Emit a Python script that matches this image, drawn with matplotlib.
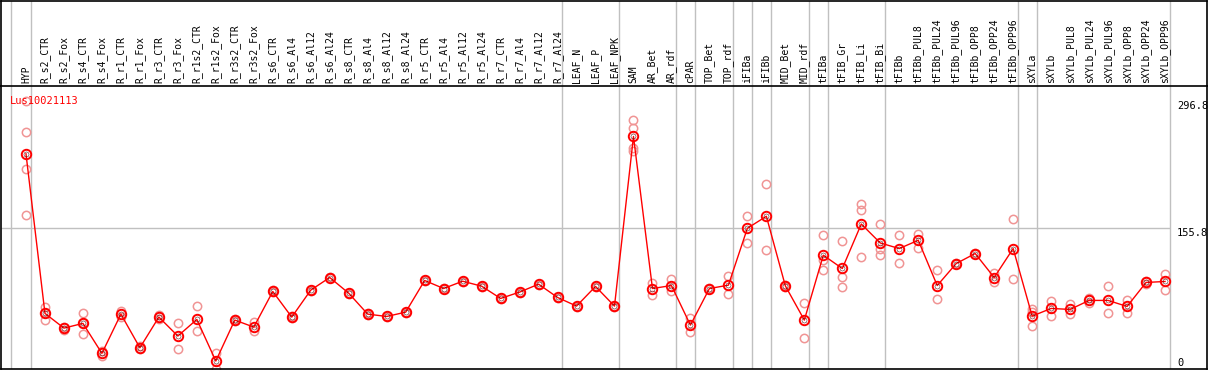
import numpy as np
import matplotlib
matplotlib.use('Agg')
import matplotlib.pyplot as plt

# condition names (header labels)
conditions = ['HYP', 'R_s2_CTR', 'R_s2_Fox', 'R_s4_CTR', 'R_s4_Fox', 'R_r1_CTR', 'R_r1_Fox',
              'R_r3_CTR', 'R_r3_Fox', 'R_r1s2_CTR', 'R_r1s2_Fox', 'R_r3s2_CTR', 'R_r3s2_Fox',
              'R_s6_CTR', 'R_s6_Al4', 'R_s6_Al12', 'R_s6_Al24', 'R_s8_CTR', 'R_s8_Al4',
              'R_s8_Al12', 'R_s8_Al24', 'R_r5_CTR', 'R_r5_Al4', 'R_r5_Al12', 'R_r5_Al24',
              'R_r7_CTR', 'R_r7_Al4', 'R_r7_Al12', 'R_r7_Al24', 'LEAF_N', 'LEAF_P', 'LEAF_NPK',
              'SAM', 'AR_Bet', 'AR_rdf', 'cPAR', 'TOP_Bet', 'TOP_rdf', 'iFIBa', 'iFIBb',
              'MID_Bet', 'MID_rdf', 'tFIBa', 'tFIB_Gr', 'tFIB_Li', 'tFIB_Bi', 'tFIBb',
              'tFIBb_PUL8', 'tFIBb_PUL24', 'tFIBb_PUL96', 'tFIBb_OPP8', 'tFIBb_OPP24',
              'tFIBb_OPP96', 'sXYLa', 'sXYLb', 'sXYLb_PUL8', 'sXYLb_PUL24', 'sXYLb_PUL96',
              'sXYLb_OPP8', 'sXYLb_OPP24', 'sXYLb_OPP96']

# mean expression per condition
means = [238.1, 61.1, 44.8, 50.0, 16.8, 60.3, 23.0, 57.0, 36.0, 54.4, 8.3, 53.7, 45.9,
         85.4, 57.0, 86.9, 100.9, 83.5, 60.3, 57.7, 62.5, 97.6, 88.7, 96.8, 91.3,
         77.7, 84.7, 93.5, 78.8, 69.2, 91.0, 69.2, 257.3, 88.7, 92.0, 48.1, 88.7, 92.4,
         155.5, 168.8, 91.6, 53.7, 125.6, 110.9, 160.2, 139.2, 133.0, 142.2, 92.0,
         116.4, 127.5, 100.9, 133.0, 58.1, 66.6, 65.5, 75.5, 75.5, 68.8, 95.4, 96.5]

# individual replicates per condition
replicates = [
    [296.8, 261.7, 221.5, 170.6], [68.1, 61.5, 53.3], [46.5, 43.0], [61.4, 50.5, 37.8],
    [19.7, 14.0], [64.0, 56.7], [24.5, 21.6], [59.3, 54.6], [50.0, 21.6], [68.8, 41.2],
    [17.0, 0.0], [55.0, 52.4], [51.1, 41.2], [86.5, 84.3], [58.0, 56.0], [87.5, 86.3],
    [101.5, 100.3], [84.2, 82.9], [61.0, 59.6], [58.3, 57.1], [63.1, 61.9], [98.2, 97.0],
    [89.3, 88.1], [97.4, 96.2], [91.9, 90.7], [78.3, 77.1], [85.3, 84.1], [94.1, 92.9],
    [79.4, 78.2], [69.8, 68.6], [91.6, 90.4], [69.8, 68.6],
    [275.6, 266.4, 244.2, 241.5], [94.6, 81.7], [99.4, 85.8], [55.9, 40.1], [89.5, 88.0],
    [103.1, 82.1], [169.5, 139.6], [204.9, 131.9], [92.5, 90.8], [72.8, 33.4],
    [147.7, 120.0, 108.7], [141.9, 102.0, 89.9], [182.8, 176.2, 123.7],
    [160.7, 132.6, 126.4], [148.5, 117.5], [149.6, 134.1], [108.7, 76.6], [117.0, 116.0],
    [128.0, 127.0], [106.0, 95.7], [166.2, 98.7], [65.5, 62.2, 46.7], [74.7, 58.4],
    [71.7, 60.0], [78.5, 72.5], [91.0, 61.1], [75.8, 61.7], [97.0, 94.0], [104.9, 87.6]]

# group separators (between conditions)
separators = [-0.78, 0.25, 28.25, 31.25, 34.25, 35.25, 37.25, 38.25, 39.25, 41.25,
              42.25, 45.25, 52.25, 53.25, 60.25]

gene = 'Lus10021113'
y_marks = [296.8, 155.8, 0]

W, H = 1209, 370
fig = plt.figure(figsize=(W / 100, H / 100), dpi=100)

xlim = ((1 - 26) / 19, (1208 - 26) / 19)
px_per_unit = 0.9018
y0_px = 368.5

# header with the condition names
ax_h = fig.add_axes([1 / W, (H - 86) / H, 1206 / W, 85.5 / H])
ax_h.set_xlim(xlim)
ax_h.set_ylim(0, 1)
ax_h.set_xticks([])
ax_h.set_yticks([])
ax_h.spines['bottom'].set_visible(False)
for s in ['top', 'left', 'right']:
    ax_h.spines[s].set_linewidth(1.2)
for sx in separators:
    ax_h.axvline(sx, color='#c0c0c0', lw=1)
for i, lab in enumerate(conditions):
    ax_h.text(i, 0.03, lab, rotation=90, ha='center', va='bottom',
              family='DejaVu Sans Mono', fontsize=7)

# main plot
ax = fig.add_axes([1 / W, 1 / H, 1206 / W, 283 / H])
ax.set_xlim(xlim)
ax.set_ylim((y0_px - 369) / px_per_unit, (y0_px - 86) / px_per_unit)
ax.set_xticks([])
ax.set_yticks([])
for s in ax.spines.values():
    s.set_linewidth(1.2)

for sx in separators:
    ax.axvline(sx, color='#c0c0c0', lw=1, zorder=1)
ax.hlines(155.8, xlim[0], 60.25, color='#c0c0c0', lw=1, zorder=1)

x = np.arange(len(conditions))
for i, reps in enumerate(replicates):
    ax.plot([i] * len(reps), reps, 'o', ms=6, mfc='none', mec='#f09494', mew=1.1,
            zorder=2, clip_on=False)

ax.plot(x, means, color='red', lw=1, zorder=3)
ax.plot(x, means, 'o', ms=6.8, mfc='none', mec='red', mew=1.4, zorder=4)
ax.plot(x, means, 'o', ms=3.6, mfc='none', mec='#400000', mew=0.35, zorder=5)

ax.text(-0.85, 297, gene, color='red', family='DejaVu Sans Mono', fontsize=7.5,
        ha='left', va='center')

xr = (1178 - 26) / 19
for v in y_marks:
    ax.text(xr, v, '0' if v == 0 else f'{v}', family='DejaVu Sans Mono', fontsize=7.5,
            ha='left', va='bottom' if v == 0 else 'top')

fig.savefig('out.png', dpi=100)
